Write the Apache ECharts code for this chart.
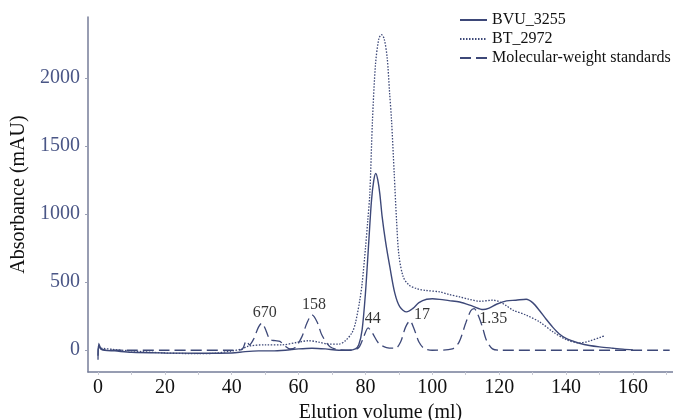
<!DOCTYPE html>
<html>
<head>
<meta charset="utf-8">
<script src="https://cdn.jsdelivr.net/npm/echarts@6/dist/echarts.min.js"></script>
<style>html,body{margin:0;padding:0;background:#fff}#c{width:673px;height:420px}</style>
</head>
<body>
<div id="c"></div>
<script>
var bvuX = [0, 0.2, 0.8, 2, 5, 10, 20, 30, 40, 44, 48, 52, 56, 60, 64, 68, 72, 75, 77, 78, 79, 80, 81, 81.8, 82.5, 83.1, 83.7, 84.3, 85, 86, 87.3, 88.8, 90.3, 92.3, 94.2, 96, 98.3, 100, 102.2, 105, 108.2, 112.2, 115.2, 117, 119.2, 122.2, 125, 128.1, 130, 132, 134, 136, 138, 140, 142, 144, 147, 150, 154, 157, 160];
var bvuY = [-40, 40, 10, 0, -5, -15, -20, -22, -20, -10, -5, -5, 0, 10, 15, 10, 0, 0, 10, 40, 150, 420, 800, 1100, 1250, 1300, 1250, 1150, 980, 800, 612, 418, 318, 282, 308, 350, 375, 378, 374, 365, 355, 323, 299, 310, 338, 363, 368, 375, 350, 294, 230, 170, 120, 88, 68, 51, 35, 25, 15, 8, 3];

var btX = [0, 1, 5, 10, 20, 30, 35, 40, 43, 45, 50, 55, 60, 63, 66, 69, 72, 74, 76, 77, 78.3, 79, 80, 80.7, 81.3, 82.1, 83, 84, 84.8, 85.6, 86.5, 87.2, 87.8, 88.6, 89.3, 90, 91.3, 93, 95.3, 98, 102.2, 105, 108.2, 111, 114.2, 118.2, 120.2, 122, 124.2, 128.2, 132.1, 136.1, 140.1, 144.1, 147.1, 150.6, 151.5];
var btY = [20, 15, 5, -5, -20, -25, -22, -5, 10, 30, 40, 40, 60, 70, 60, 45, 45, 70, 130, 200, 367, 490, 750, 956, 1150, 1691, 2100, 2290, 2320, 2290, 2150, 1900, 1691, 1300, 956, 700, 540, 480, 453, 440, 429, 410, 392, 375, 360, 368, 355, 330, 294, 257, 208, 135, 78, 54, 68, 98, 105];

var stdX = [0, 0.2, 1, 3, 20, 40, 43, 44.4, 45.3, 46.5, 48, 49, 50, 51.4, 53, 54.4, 56, 57.4, 59, 61, 62.5, 64, 65.5, 67, 69.4, 72, 76, 78, 79.5, 80.8, 82, 84, 86.3, 89, 90.5, 92, 93.3, 94.5, 96, 97.5, 100, 106, 108, 110, 111.5, 112.5, 113.5, 115, 116.2, 118, 120, 171];
var stdY = [-70, 50, 10, 0, 0, 0, 5, 70, 40, 80, 170, 200, 160, 80, 70, 65, 30, 10, 20, 100, 200, 260, 210, 110, 25, 5, 0, 20, 100, 164, 130, 50, 20, 15, 60, 170, 216, 160, 60, 15, 0, 10, 60, 200, 290, 306, 270, 170, 73, 10, 0, 0];

var annoText = ['670', '158', '44', '17', '1.35'];
var annoX = [49.9, 64.6, 82.2, 96.9, 118.2];
var annoY = [272, 331, 233, 257, 233];

var xTicks = [0, 20, 40, 60, 80, 100, 120, 140, 160];
var xMinorTicks = [0, 10, 20, 30, 40, 50, 60, 70, 80, 90, 100, 110, 120, 130, 140, 150, 160, 170];
var yTicks = [0, 500, 1000, 1500, 2000];

function zip(xs, ys) { return xs.map(function (x, i) { return [x, ys[i]]; }); }

var navy = '#3d4878';
var font = '"Liberation Serif", "Times New Roman", serif';

var chart = echarts.init(document.getElementById('c'));
chart.setOption({
  animation: false,
  backgroundColor: '#fff',
  grid: { left: 88, right: 0, top: 17, bottom: 48, containLabel: false, outerBoundsMode: 'none' },
  legend: {
    orient: 'vertical', left: 454, top: 7, itemGap: 3, itemWidth: 27, itemHeight: 16,
    itemStyle: { opacity: 0 },
    textStyle: { fontFamily: font, fontSize: 16, color: '#111' },
    data: ['BVU_3255', 'BT_2972', 'Molecular-weight standards']
  },
  xAxis: {
    type: 'value', min: -3, max: 172,
    name: 'Elution volume (ml)', nameLocation: 'middle', nameGap: 24,
    nameTextStyle: { fontFamily: font, fontSize: 20, color: '#111' },
    axisLine: { onZero: false, lineStyle: { color: '#767d99', width: 1.5 } },
    axisTick: { show: true, length: 3, lineStyle: { color: '#c8cad4' }, customValues: xMinorTicks },
    axisLabel: { fontFamily: font, fontSize: 20, color: '#111', margin: 6, customValues: xTicks },
    splitLine: { show: false }
  },
  yAxis: {
    type: 'value', min: -160, max: 2450,
    name: 'Absorbance (mAU)', nameLocation: 'middle', nameGap: 58,
    nameTextStyle: { fontFamily: font, fontSize: 20, color: '#111' },
    axisLine: { show: true, onZero: false, lineStyle: { color: '#767d99', width: 1.5 } },
    axisTick: { show: true, length: 3, lineStyle: { color: '#9a9fb5' }, customValues: yTicks },
    axisLabel: { fontFamily: font, fontSize: 20, color: '#4a5686', margin: 8, customValues: yTicks,
      formatter: function (v) { return String(v); } },
    splitLine: { show: false }
  },
  series: [
    {
      name: 'BVU_3255', type: 'line', data: zip(bvuX, bvuY), smooth: 0.3, symbol: 'none',
      lineStyle: { color: navy, width: 1.4 }, itemStyle: { color: navy }
    },
    {
      name: 'BT_2972', type: 'line', data: zip(btX, btY), smooth: 0.3, symbol: 'none',
      lineStyle: { color: navy, width: 1.3, type: [1.5, 1.5] }, itemStyle: { color: navy }
    },
    {
      name: 'Molecular-weight standards', type: 'line', data: zip(stdX, stdY), smooth: 0.3, symbol: 'none',
      lineStyle: { color: navy, width: 1.3, type: [11, 5] }, itemStyle: { color: navy }
    },
    {
      name: 'labels', type: 'scatter', symbolSize: 0, silent: true,
      data: annoX.map(function (x, i) { return { value: [x, annoY[i]], name: annoText[i] }; }),
      label: { show: true, position: 'inside', formatter: function (p) { return p.name; },
        fontFamily: font, fontSize: 16, color: '#000' }
    }
  ]
});
</script>
</body>
</html>
